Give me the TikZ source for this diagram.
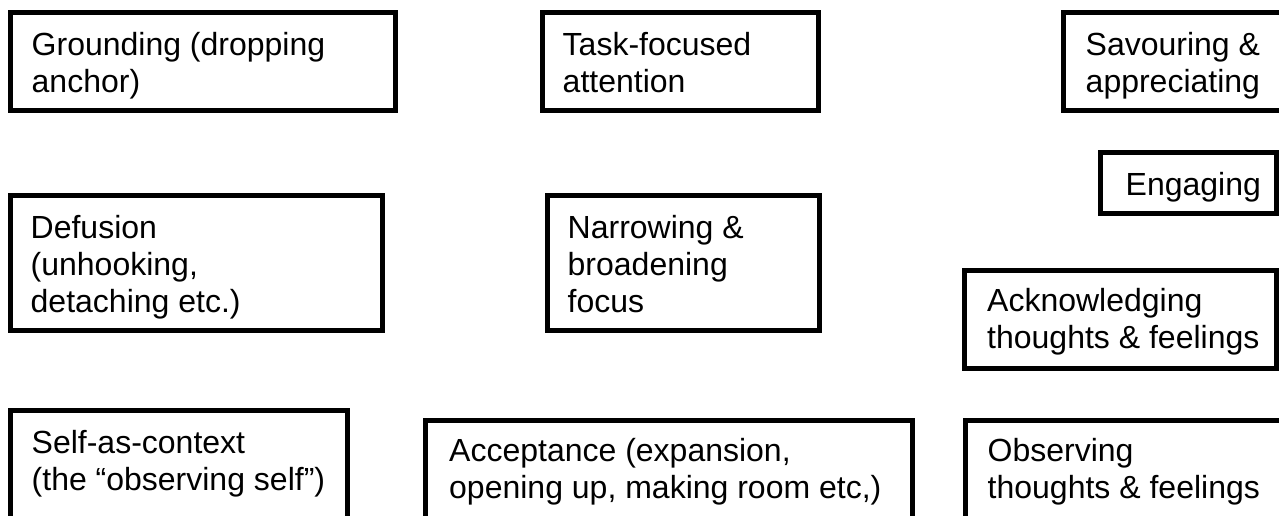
\documentclass[tikz,border=0pt]{standalone}
\usepackage{fontspec}
\setmainfont{Liberation Sans}
\usepackage{tikz}
\tikzset{
  box/.style={draw=black, line width=5pt, inner sep=0pt, outer sep=0pt, anchor=north west},
  lab/.style={text=black, font=\fontsize{32}{37}\selectfont, align=left, inner sep=0pt, anchor=north west},
}
\begin{document}
\begin{tikzpicture}[x=1pt,y=-1pt]
  \useasboundingbox (0,0) rectangle (1279,516);
  \clip (0,0) rectangle (1279,516);
  % boxes
  \node[box, minimum width=385pt, minimum height=98pt] (ground) at (10.5,12.5) {};
  \node[box, minimum width=276pt, minimum height=98pt] (task) at (542.5,12.5) {};
  \node[box, minimum width=230pt, minimum height=98pt] (savour) at (1063.5,12.5) {};
  \node[box, minimum width=176pt, minimum height=61pt] (engage) at (1100.5,152.5) {};
  \node[box, minimum width=372pt, minimum height=135pt] (defus) at (10.5,195.5) {};
  \node[box, minimum width=272pt, minimum height=135pt] (narrow) at (547.5,195.5) {};
  \node[box, minimum width=312pt, minimum height=98pt] (ackn) at (964.5,270.5) {};
  \node[box, minimum width=337pt, minimum height=120pt] (self) at (10.5,410.5) {};
  \node[box, minimum width=487pt, minimum height=120pt] (accept) at (425.5,420.5) {};
  \node[box, minimum width=330pt, minimum height=120pt] (observe) at (965.5,420.5) {};
  % texts
  \node[lab] (groundt) at ([shift={(21pt,-19.5pt)}]ground.north west) {Grounding (dropping\\anchor)};
  \node[lab] (taskt) at ([shift={(20pt,-19.5pt)}]task.north west) {Task-focused\\attention};
  \node[lab] (savourt) at ([shift={(22pt,-19.5pt)}]savour.north west) {Savouring \&\\appreciating};
  \node[lab] (engaget) at ([shift={(25pt,-19.5pt)}]engage.north west) {Engaging};
  \node[lab] (defust) at ([shift={(20pt,-19.5pt)}]defus.north west) {Defusion\\(unhooking,\\detaching etc.)};
  \node[lab] (narrowt) at ([shift={(20pt,-19.5pt)}]narrow.north west) {Narrowing \&\\broadening\\focus};
  \node[lab] (acknt) at ([shift={(22.5pt,-18pt)}]ackn.north west) {Acknowledging\\thoughts \& feelings};
  \node[lab] (selft) at ([shift={(21pt,-19.5pt)}]self.north west) {Self-as-context\\(the “observing self”)};
  \node[lab] (acceptt) at ([shift={(23.5pt,-18pt)}]accept.north west) {Acceptance (expansion,\\opening up, making room etc,)};
  \node[lab] (observet) at ([shift={(22pt,-18pt)}]observe.north west) {Observing\\thoughts \& feelings};
\end{tikzpicture}
\end{document}
